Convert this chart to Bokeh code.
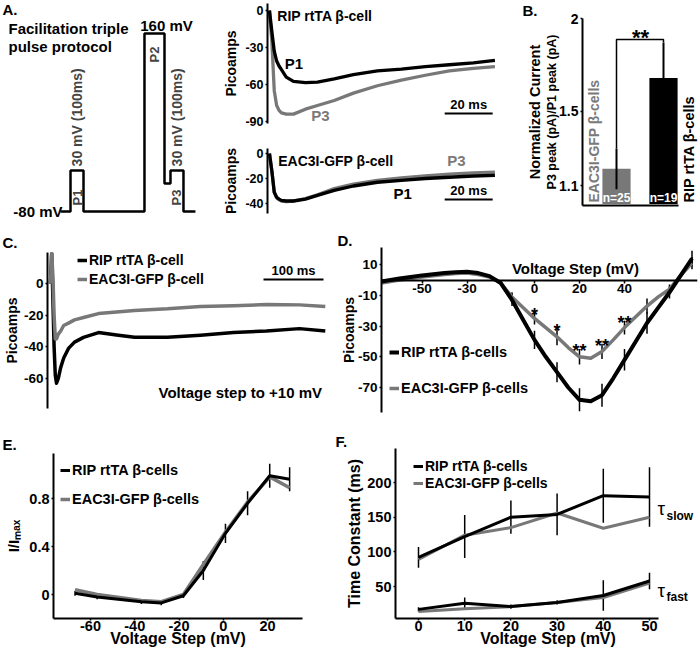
from bokeh.plotting import figure
from bokeh.models import (Range1d, Label, FixedTicker, NumeralTickFormatter, Legend,
                          LegendItem, Title)
from bokeh.layouts import row, column
from bokeh.core.properties import value
from bokeh.embed import file_html
from bokeh.resources import INLINE

FONT = "Liberation Sans"
BLACK = "#000000"
GREY = "#787878"
TGREY = "#7a7a7a"

# ---------------- data ----------------
# A. facilitation triple pulse protocol (schematic durations / heights, P1 height = 1)
PROTO_DUR_MS = [77, 100, 469, 154, 46, 100, 92]
PROTO_LEVEL = [0.0, 1.0, 0.0, 4.34, 0.68, 1.0, 0.0]

# A. example currents (ms, pA)
A_T = [0, 1, 2, 3, 4, 5, 7, 10, 15, 20, 27, 35, 45, 55, 65, 75, 85, 94]
A_RIP_P1 = [0, -17, -33, -41, -45, -48, -54, -57.5, -58.5, -58, -55.5, -52, -49, -47.5, -45.5, -44, -42.5, -40.5]
A_RIP_P3 = [0, -25, -65, -77, -81, -83, -84, -84, -80, -77, -73, -67, -61, -56.5, -52.5, -49, -47, -45.5]
A_EAC_P1 = [0, -14, -31, -35, -36.5, -37.5, -38, -38, -36.5, -33.5, -29.5, -26, -23, -21.5, -20, -19, -18, -17.5]
A_EAC_P3 = [0, -14, -31, -35.5, -37, -38, -38.5, -38, -36, -33, -28, -24.5, -21.5, -19.5, -18, -16.5, -15.5, -15]

# B. P3/P1 facilitation ratio
B_GROUPS = ["EAC3I-GFP \u03b2-cells", "RIP rtTA \u03b2-cells"]
B_MEAN = [1.19, 1.68]
B_SEM = [0.11, 0.19]
B_N = ["n=25", "n=19"]

# C. step to +10 mV (ms, pA)
C_T = [0, 2, 4, 6, 8, 10, 13, 17, 22, 30, 40, 55, 80, 110, 140, 195, 250, 305, 360, 415, 458]
C_RIP = [0, 19, -10, -40, -58, -63, -60, -53, -47, -41, -37, -34, -31, -32.5, -34, -34, -32.7, -31, -30, -28.5, -30]
C_EAC = [0, 19, 5, -20, -35, -35, -32, -30, -26.5, -25, -23, -21.5, -19, -18, -17, -16, -14.5, -14, -13.3, -13.5, -14.5]

# D. I-V relation (mV, pA)
D_CURVE_V = [-68, -60, -55, -50, -45, -40, -35, -30, -25, -20, -15, -10, -5, 0, 5, 10,
             15, 20, 25, 30, 35, 40, 45, 50, 55, 60, 65, 70]
D_RIP_CURVE = [-1, 1, 2, 3, 3.8, 4.5, 5, 5.3, 4.5, 2.5, -2, -13, -26, -39, -50, -60,
               -70, -78, -79, -75, -64, -52, -40, -28, -18, -8, 3, 14]
D_EAC_CURVE = [-2, 0, 1, 2, 2.8, 3.5, 4.2, 4.5, 3.5, 2, -2, -11, -18, -25, -31, -37,
               -44, -50, -51, -46.5, -39, -31, -24, -17, -11, -6, 3, 11]
D_V = [-10, 0, 10, 20, 30, 40, 50, 60, 70]
D_RIP = [-13, -39, -60, -78, -75, -52, -28, -8, 14]
D_RIP_ERR = [4, 6, 6.5, 7.5, 7.5, 7, 7, 4, 5]
D_EAC = [-11, -25, -37, -50, -46.5, -31, -17, -6, 11]
D_EAC_ERR = [3, 4, 5.5, 5, 5, 4.5, 5, 3, 4]
D_SIG = ["", "*", "*", "**", "**", "**", "", "", ""]

# E. normalized I-V
E_V = [-67, -57, -37, -28, -18, -9, 1, 11, 21, 30]
E_RIP = [0.01, -0.02, -0.06, -0.07, -0.01, 0.2, 0.51, 0.76, 0.99, 0.96]
E_RIP_ERR = [0.02, 0.02, 0.02, 0.02, 0.02, 0.08, 0.08, 0.1, 0.1, 0.1]
E_EAC = [0.04, 0.0, -0.05, -0.06, 0.0, 0.25, 0.52, 0.77, 0.98, 0.89]

# F. inactivation time constants (ms)
F_V = [0, 10, 20, 30, 40, 50]
F_RIP_SLOW = [92, 122, 150, 154, 181, 179]
F_RIP_SLOW_ERR = [15, 31, 24, 30, 39, 43]
F_EAC_SLOW = [89, 124, 135, 156, 134, 150]
F_RIP_FAST = [17, 26, 21, 27, 37, 58]
F_RIP_FAST_ERR = [3, 8, 3, 3, 22, 12]
F_EAC_FAST = [14, 18, 21, 27, 34, 55]

# ---------------- layout helpers ----------------
HALF_PI = 1.5707963


def S(v):
    return int(round(v))


class Panel:
    def __init__(self, canvas, frame, xcal, ycal, xaxis=True, yaxis=True, title=False):
        (px1, v1), (px2, v2) = xcal
        self.kx = (v2 - v1) / (px2 - px1)
        self.bx = v1 - self.kx * px1
        (py1, w1), (py2, w2) = ycal
        self.ky = (w2 - w1) / (py2 - py1)
        self.by = w1 - self.ky * py1
        cx0, cy0, cx1, cy1 = canvas
        fx0, fy0, fx1, fy1 = frame
        self.frame = frame
        self.canvas = canvas
        p = figure(width=S(cx1) - S(cx0), height=S(cy1) - S(cy0),
                   x_range=Range1d(self.X(fx0), self.X(fx1)),
                   y_range=Range1d(self.Y(fy1), self.Y(fy0)),
                   output_backend="svg", toolbar_location=None,
                   x_axis_location="below" if xaxis else None,
                   y_axis_location="left" if yaxis else None,
                   min_border_left=S(fx0) - S(cx0),
                   min_border_right=S(cx1) - S(fx1),
                   min_border_top=S(fy0) - S(cy0),
                   min_border_bottom=S(cy1) - S(fy1))
        if not title:
            p.title = None
        p.outline_line_color = None
        p.grid.visible = False
        p.background_fill_color = "white"
        p.border_fill_color = "white"
        self.p = p

    def X(self, px):
        return self.kx * px + self.bx

    def Y(self, py):
        return self.ky * py + self.by

    def text(self, px, py, txt, size="14px", color=BLACK, align="left",
             baseline="middle", angle=0.0, style="bold", font=FONT):
        self.p.add_layout(Label(x=self.X(px), y=self.Y(py), text=txt, text_font=font,
                                text_font_size=size, text_font_style=style,
                                text_color=color, text_align=align,
                                text_baseline=baseline, angle=angle))

    def letter(self, txt, px):
        t = self.p.title
        t.text = txt
        t.align = "left"
        t.offset = S(px) - S(self.frame[0])
        # title box exactly fills the top border (2px + text height + standoff)
        t.standoff = (S(self.frame[1]) - S(self.canvas[1])) - 19
        t.text_font = FONT
        t.text_font_size = "15px"
        t.text_font_style = "bold"
        t.text_color = BLACK
        t.vertical_align = "bottom"

    def legend(self, items, left_px, bottom_px, row_h, gap, size="14px"):
        fx0, fy0, fx1, fy1 = self.frame
        leg = Legend(items=[LegendItem(label=l, renderers=[r]) for l, r in items],
                     location=(S(left_px) - S(fx0), S(fy1) - S(bottom_px)),
                     glyph_width=10, glyph_height=row_h, label_height=row_h,
                     spacing=gap, padding=0, margin=0, label_standoff=2,
                     border_line_alpha=0, background_fill_alpha=0,
                     label_text_font=FONT, label_text_font_style="bold",
                     label_text_font_size=size, label_text_color=BLACK)
        self.p.add_layout(leg)


def style_axis(ax, ticks, size="13px", label=None, label_size="14px", label_standoff=5,
               tick_out=2, standoff=2):
    ax.ticker = FixedTicker(ticks=ticks)
    ax.formatter = NumeralTickFormatter(format="0.[0]")
    ax.axis_line_width = 2
    ax.axis_line_color = BLACK
    ax.major_tick_line_width = 1.5
    ax.major_tick_out = tick_out
    ax.major_tick_in = 0
    ax.minor_tick_out = 0
    ax.minor_tick_in = 0
    ax.major_label_standoff = standoff
    ax.major_label_text_font = FONT
    ax.major_label_text_font_style = "bold"
    ax.major_label_text_font_size = size
    ax.major_label_text_color = BLACK
    if label is not None:
        ax.axis_label = label
        ax.axis_label_text_font = FONT
        ax.axis_label_text_font_style = "bold"
        ax.axis_label_text_font_size = label_size
        ax.axis_label_text_color = BLACK
        ax.axis_label_standoff = label_standoff


# ---------------- A: protocol ----------------
pr = Panel((0, 0, 220, 230), (0, 0, 220, 230), ((60, 0), (73, 100)), ((211, 0), (170, 1)),
           xaxis=False, yaxis=False)
xs, ys, t = [], [], 0.0
for d, lv in zip(PROTO_DUR_MS, PROTO_LEVEL):
    xs += [t, t + d]
    ys += [lv, lv]
    t += d
pr.p.line(xs, ys, line_color=BLACK, line_width=2.5)
starts = [sum(PROTO_DUR_MS[:i]) for i in range(len(PROTO_DUR_MS))]
p1c = starts[1] + PROTO_DUR_MS[1] / 2
p2c = starts[3] + PROTO_DUR_MS[3] / 2
p3c = starts[5] + PROTO_DUR_MS[5] / 2
pr.text(2, 9, "A.", size="15px")
pr.text(8, 28, "Facilitation triple", size="15px")
pr.text(8, 46, "pulse protocol", size="15px")
pr.text(166, 25, "160 mV", size="15px", align="center")
pr.text(62, 211, "-80 mV", size="15px", align="right")
for c in (p1c, p3c):
    pr.p.add_layout(Label(x=c, y=1.0 + 0.1, text="30 mV (100ms)", text_font=FONT,
                          text_font_size="14px", text_font_style="bold",
                          text_align="left", text_baseline="middle", angle=HALF_PI))
for c, lab, lv in ((p1c, "P1", 0.34), (p3c, "P3", 0.34), (p2c, "P2", 3.83)):
    pr.p.add_layout(Label(x=c, y=lv, text=lab, text_font=FONT, text_font_size="13px",
                          text_font_style="bold", text_align="center",
                          text_baseline="middle", angle=HALF_PI))

# ---------------- A: traces ----------------
at = Panel((220, 0, 515, 135), (262, 3, 500, 123), ((264, 0), (313, 20)), ((10, 0), (121, -90)),
           xaxis=False)
style_axis(at.p.yaxis[0], [0, -30, -60, -90], "12.5px", "Picoamps", "14px", 3)
at.p.line(A_T, A_RIP_P3, line_color=GREY, line_width=3.3, line_join="round")
at.p.line(A_T, A_RIP_P1, line_color=BLACK, line_width=3.3, line_join="round")
at.text(272, 15, "RIP rtTA \u03b2-cell")
at.text(289, 63, "P1", size="15px", align="center")
at.text(316, 115, "P3", size="15px", align="center", color=TGREY)
SCALE_A_MS = 20
end = at.X(492)
at.p.line([end - SCALE_A_MS, end], [at.Y(113), at.Y(113)], line_color=BLACK, line_width=2)
at.text((443 + 492) / 2, 111, "20 ms", size="13px", align="center", baseline="bottom")

ab = Panel((220, 135, 515, 230), (262, 148, 500, 213), ((264, 0), (313, 20)), ((153, 0), (203, -40)),
           xaxis=False)
style_axis(ab.p.yaxis[0], [0, -20, -40], "12.5px", "Picoamps", "14px", 3)
ab.p.line(A_T, A_EAC_P3, line_color=GREY, line_width=3.3, line_join="round")
ab.p.line(A_T, A_EAC_P1, line_color=BLACK, line_width=3.3, line_join="round")
ab.text(273, 160, "EAC3I-GFP \u03b2-cell")
ab.text(455, 160, "P3", size="15px", align="center", color=TGREY)
ab.text(400, 193, "P1", size="15px", align="center")
end = ab.X(492)
ab.p.line([end - SCALE_A_MS, end], [ab.Y(199), ab.Y(199)], line_color=BLACK, line_width=2)
ab.text((443 + 492) / 2, 197, "20 ms", size="13px", align="center", baseline="bottom")

# ---------------- B ----------------
pb = Panel((515, 0, 700, 230), (582, 18, 700, 205), ((616, 1), (663, 2)), ((18, 2), (185, 1.1)),
           title=True)
style_axis(pb.p.yaxis[0], [1.1, 1.5, 2], "14px", "P3 peak (pA)/P1 peak (pA)", "12.5px", -3)
pb.p.add_layout(Title(text="Normalized Current", align="center", standoff=0, text_font=FONT,
                      text_font_size="14.5px", text_font_style="bold", text_color=BLACK), "left")
xa = pb.p.xaxis[0]
xa.ticker = FixedTicker(ticks=[])
xa.axis_line_width = 2
xa.major_tick_out = 0
xa.minor_tick_out = 0
xa.major_label_text_font_size = "1px"
xa.bounds = (pb.X(582), pb.X(678))
B_X = [i + 1 for i in range(len(B_GROUPS))]
pb.p.vbar(x=B_X, top=B_MEAN, bottom=1.0, width=0.6, fill_color=[GREY, BLACK], line_color=None)
pb.p.segment(x0=B_X, y0=[m - s for m, s in zip(B_MEAN, B_SEM)], x1=B_X,
             y1=[m + s for m, s in zip(B_MEAN, B_SEM)], line_color=BLACK, line_width=2)
top = pb.Y(39)
pb.p.line([B_X[0], B_X[0], B_X[1], B_X[1]],
          [B_MEAN[0] + B_SEM[0], top, top, B_MEAN[1] + B_SEM[1]], line_color=BLACK, line_width=1.5)
pb.text(640, 37, "**", size="22px", align="center")
for xb, n in zip(B_X, B_N):
    pb.p.add_layout(Label(x=xb, y=pb.Y(197), text=n, text_font=FONT, text_font_size="12px",
                          text_font_style="bold", text_color="white", text_align="center",
                          text_baseline="middle"))
pb.text(593, 202, B_GROUPS[0], size="14px", color=TGREY, angle=HALF_PI)
pb.text(688, 202, B_GROUPS[1], size="14.5px", angle=HALF_PI)
pb.letter("B.", 522)

# ---------------- C ----------------
pc = Panel((0, 230, 333, 432), (47, 252, 333, 408), ((50, 0), (110, 100)), ((283, 0), (378, -60)),
           xaxis=False, title=True)
style_axis(pc.p.yaxis[0], [0, -20, -40, -60], "13.5px", "Picoamps", "14px", 1)
rc1 = pc.p.line(C_T, C_RIP, line_color=BLACK, line_width=3.5, line_join="round")
rc2 = pc.p.line(C_T, C_EAC, line_color=GREY, line_width=3.5, line_join="round")
pc.legend([("RIP rtTA \u03b2-cell", rc1), ("EAC3I-GFP \u03b2-cell", rc2)], 77, 287, 14, 3)
pc.letter("C.", 2)
pc.text(158, 392, "Voltage step to +10 mV", size="15px")
SCALE_C_MS = 100
end = pc.X(323)
pc.p.line([end - SCALE_C_MS, end], [pc.Y(279), pc.Y(279)], line_color=BLACK, line_width=2)
pc.text(293, 277, "100 ms", size="13px", align="center", baseline="bottom")

# ---------------- D ----------------
pd = Panel((333, 230, 700, 432), (381, 247, 697, 412), ((534, 0), (624, 40)), ((279.5, 0), (387, -70)),
           title=True)
style_axis(pd.p.yaxis[0], [10, -10, -30, -50, -70], "13.5px", "Picoamps", "14px", -2)
style_axis(pd.p.xaxis[0], [-50, -30, 0, 20, 40], "13.5px", tick_out=3, standoff=1)
pd.p.xaxis[0].fixed_location = 0
pd.p.segment(x0=D_V, y0=[v - e for v, e in zip(D_EAC, D_EAC_ERR)], x1=D_V,
             y1=[v + e for v, e in zip(D_EAC, D_EAC_ERR)], line_color=BLACK, line_width=1.5)
pd.p.segment(x0=D_V, y0=[v - e for v, e in zip(D_RIP, D_RIP_ERR)], x1=D_V,
             y1=[v + e for v, e in zip(D_RIP, D_RIP_ERR)], line_color=BLACK, line_width=1.5)
rd2 = pd.p.line(D_CURVE_V, D_EAC_CURVE, line_color=GREY, line_width=3.5, line_join="round")
rd1 = pd.p.line(D_CURVE_V, D_RIP_CURVE, line_color=BLACK, line_width=4, line_join="round")
sig = [(v, y + e, s) for v, y, e, s in zip(D_V, D_EAC, D_EAC_ERR, D_SIG) if s]
pd.p.text(x=[s[0] for s in sig], y=[s[1] - 1.5 for s in sig], text=[s[2] for s in sig],
          text_font=value(FONT), text_font_size=value("18px"), text_font_style="bold",
          text_align="center", text_baseline="alphabetic")
pd.legend([("RIP rtTA \u03b2-cells", rd1), ("EAC3I-GFP \u03b2-cells", rd2)], 389, 397, 18, 18, "14.5px")
pd.letter("D.", 337)
pd.text(575, 268, "Voltage Step (mV)", size="15px", align="center")

# ---------------- E ----------------
pe = Panel((0, 432, 330, 653), (53, 453, 302, 618), ((90, -60), (267, 20)), ((594, 0), (498, 0.8)),
           title=True)
style_axis(pe.p.yaxis[0], [0, 0.4, 0.8], "14.5px", "I/I\u2098\u2090\u2093", "15px", 4)
style_axis(pe.p.xaxis[0], [-60, -40, -20, 0, 20], "14.5px", "Voltage Step (mV)", "16px", -4,
           standoff=0)
pe.p.segment(x0=E_V, y0=[v - e for v, e in zip(E_RIP, E_RIP_ERR)], x1=E_V,
             y1=[v + e for v, e in zip(E_RIP, E_RIP_ERR)], line_color=BLACK, line_width=1.5)
re2 = pe.p.line(E_V, E_EAC, line_color=GREY, line_width=3.5)
re1 = pe.p.line(E_V, E_RIP, line_color=BLACK, line_width=3)
pe.legend([("RIP rtTA \u03b2-cells", re1), ("EAC3I-GFP \u03b2-cells", re2)], 60, 508, 18, 11, "14.5px")
pe.letter("E.", 2)

# ---------------- F ----------------
pf = Panel((330, 432, 700, 653), (395, 448, 700, 618), ((418, 0), (649, 50)), ((482, 200), (586, 50)),
           title=True)
style_axis(pf.p.yaxis[0], [50, 100, 150, 200], "14.5px", "Time Constant (ms)", "16px", 1)
style_axis(pf.p.xaxis[0], [0, 10, 20, 30, 40, 50], "14.5px", "Voltage Step (mV)", "16px", -4,
           standoff=0)
pf.p.xaxis[0].bounds = (pf.X(395), pf.X(658))
for m, e in ((F_RIP_SLOW, F_RIP_SLOW_ERR), (F_RIP_FAST, F_RIP_FAST_ERR)):
    pf.p.segment(x0=F_V, y0=[v - d for v, d in zip(m, e)], x1=F_V,
                 y1=[v + d for v, d in zip(m, e)], line_color=BLACK, line_width=1.5)
rf2 = pf.p.line(F_V, F_EAC_SLOW, line_color=GREY, line_width=3)
pf.p.line(F_V, F_EAC_FAST, line_color=GREY, line_width=3)
rf1 = pf.p.line(F_V, F_RIP_SLOW, line_color=BLACK, line_width=3)
pf.p.line(F_V, F_RIP_FAST, line_color=BLACK, line_width=3)
pf.legend([("RIP rtTA \u03b2-cells", rf1), ("EAC3I-GFP \u03b2-cells", rf2)], 413, 491, 16, 1, "14px")
pf.letter("F.", 335)
pf.text(657, 508, "\u03c4", size="19px", style="normal", baseline="alphabetic")
pf.text(666, 515, "slow", size="12px", baseline="alphabetic")
pf.text(657, 590, "\u03c4", size="19px", style="normal", baseline="alphabetic")
pf.text(666, 596, "fast", size="12px", baseline="alphabetic")

# each figure is wrapped in its own column so that rows do not align their frames
layout = column(
    row(column(pr.p), column(at.p, ab.p), column(pb.p)),
    row(column(pc.p), column(pd.p)),
    row(column(pe.p), column(pf.p)),
)
open("out.html", "w").write(file_html(layout, INLINE, title="Facilitation"))
